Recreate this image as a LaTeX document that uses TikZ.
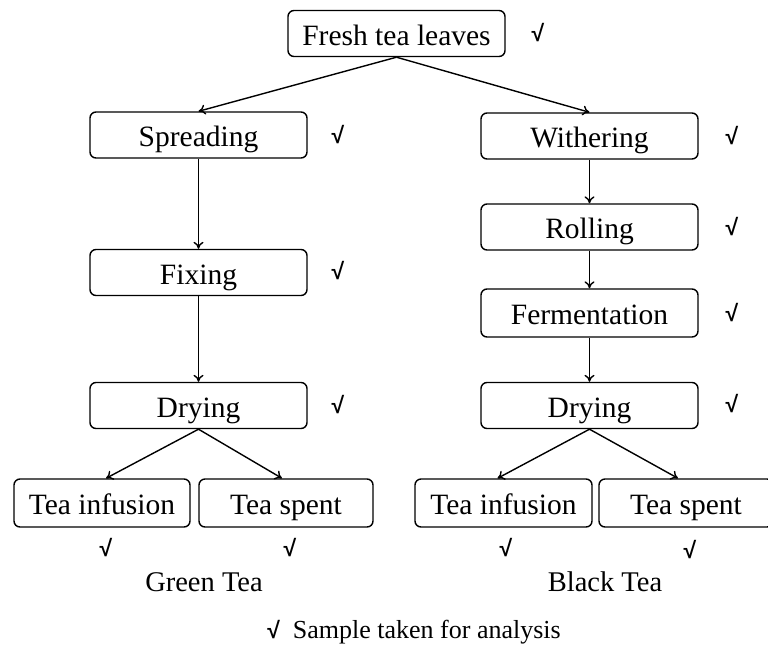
\documentclass[tikz,border=0pt]{standalone}
\usepackage{fontspec}
\setmainfont{Liberation Serif}
\newfontfamily\ckfont{Liberation Sans Bold}
\usetikzlibrary{arrows.meta}
\begin{document}
\begin{tikzpicture}[x=1pt,y=-1pt,
  stepbox/.style={draw, rounded corners=6pt, line width=1.4pt, inner sep=0pt,
    font=\fontsize{29.5}{33}\selectfont, minimum width=217pt, minimum height=46pt,
    text height=24pt, text depth=1pt},
  smallbox/.style={stepbox, minimum width=175pt, minimum height=48pt},
  ck/.style={inner sep=0pt, font=\ckfont\fontsize{23}{26}\selectfont},
  lbl/.style={inner sep=0pt, font=\fontsize{28.5}{32}\selectfont},
  arr/.style={-{To[length=7pt,width=10pt]}, line width=1.4pt}]
\useasboundingbox (0,0) rectangle (768,646);
% boxes
\node[stepbox] (fresh) at (396.5,33.5) {Fresh tea leaves};
\node[stepbox] (spread) at (198.5,135) {Spreading};
\node[stepbox] (fix) at (198.5,272.5) {Fixing};
\node[stepbox] (dryL) at (198.5,405.5) {Drying};
\node[stepbox] (wither) at (589.5,136) {Withering};
\node[stepbox] (roll) at (589.5,227) {Rolling};
\node[stepbox, minimum height=48pt] (ferm) at (589.5,313) {Fermentation};
\node[stepbox] (dryR) at (589.5,405.5) {Drying};
\node[smallbox, minimum width=176pt] (infL) at (102,503) {Tea infusion};
\node[smallbox, minimum width=174pt] (spentL) at (286,503) {Tea spent};
\node[smallbox, minimum width=177pt] (infR) at (503.5,503) {Tea infusion};
\node[smallbox, minimum width=174pt] (spentR) at (686,503) {Tea spent};
% checks
\node[ck] (c0) at (538,33) {√};
\node[ck] (c1) at (338,135) {√};
\node[ck] (c2) at (338,271) {√};
\node[ck] (c3) at (338,405) {√};
\node[ck] (c4) at (732,136) {√};
\node[ck] (c5) at (732,227) {√};
\node[ck] (c6) at (732,313) {√};
\node[ck] (c7) at (732,404) {√};
\node[ck] (c8) at (106,548) {√};
\node[ck] (c9) at (290,548) {√};
\node[ck] (c10) at (506,548) {√};
\node[ck] (c11) at (690,550) {√};
% labels
\node[lbl] (green) at (204,582) {Green Tea};
\node[lbl] (black) at (605,582) {Black Tea};
\node[inner sep=0pt, font=\fontsize{26}{30}\selectfont] (legend) at (414,632)
  {{\ckfont\fontsize{23}{26}\selectfont √}\ \ Sample taken for analysis};
% connectors
\draw[arr] (fresh.south) -- (spread.north);
\draw[arr] (fresh.south) -- (wither.north);
\draw[arr] (spread) -- (fix);
\draw[arr] (fix) -- (dryL);
\draw[arr] (wither) -- (roll);
\draw[arr] (roll) -- (ferm);
\draw[arr] (ferm) -- (dryR);
\draw[arr] (dryL.south) -- ([xshift=4pt]infL.north);
\draw[arr] (dryL.south) -- ([xshift=-4pt]spentL.north);
\draw[arr] (dryR.south) -- ([xshift=-6pt]infR.north);
\draw[arr] (dryR.south) -- ([xshift=-8pt]spentR.north);
\end{tikzpicture}
\end{document}
